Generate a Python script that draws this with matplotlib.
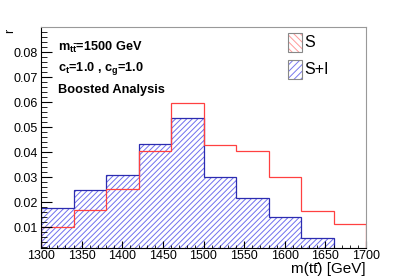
import matplotlib
matplotlib.use('Agg')
import matplotlib.pyplot as plt
from matplotlib.patches import Rectangle
from matplotlib.ticker import MultipleLocator

# bin edges of m(tt) in GeV
edges = [1300, 1340, 1380, 1420, 1460, 1500, 1540, 1580, 1620, 1660, 1700]
# signal only
s_vals = [0.0102, 0.0168, 0.0254, 0.0406, 0.0598, 0.0429, 0.0404, 0.0301, 0.0165, 0.0112]
# signal + interference
si_vals = [0.0178, 0.0248, 0.0310, 0.0432, 0.0536, 0.0302, 0.0217, 0.0141, 0.0058, 0.0]
y_ticks = [0.01, 0.02, 0.03, 0.04, 0.05, 0.06, 0.07, 0.08]
legend_labels = ['S', 'S+I']

plt.rcParams['font.family'] = ['Liberation Sans', 'DejaVu Sans']
plt.rcParams['mathtext.fontset'] = 'custom'
plt.rcParams['mathtext.rm'] = 'Liberation Sans'
plt.rcParams['mathtext.it'] = 'Liberation Sans'
plt.rcParams['mathtext.bf'] = 'Liberation Sans:bold'
plt.rcParams['hatch.linewidth'] = 0.7

W, H = 407, 276
fig = plt.figure(figsize=(W / 100, H / 100), dpi=100)
ax = fig.add_axes([41 / W, 1 - 247.7 / H, 325 / W, 220.7 / H])

hatch_blue = '#7070ee'
ax.stairs(si_vals, edges, fill=True, facecolor='none', edgecolor=hatch_blue,
          hatch='//////', linewidth=0)
ax.stairs(si_vals, edges, color='#2c2cb0', linewidth=0.9)
ax.stairs(s_vals, edges, color='#ff4040', linewidth=0.9)

ax.set_xlim(1300, 1700)
ax.set_ylim(0.0018, 0.0901)
ax.xaxis.set_major_locator(MultipleLocator(50))
ax.xaxis.set_minor_locator(MultipleLocator(10))
ax.yaxis.set_minor_locator(MultipleLocator(0.002))
ax.set_yticks(y_ticks)
ax.set_yticklabels(['%.2f' % v for v in y_ticks])
ax.tick_params(which='both', direction='in', labelsize=9, top=False, right=False)
ax.tick_params(axis='x', which='major', length=5, pad=2)
ax.tick_params(axis='x', which='minor', length=2.5)
ax.tick_params(axis='y', which='major', length=8, pad=2)
ax.tick_params(axis='y', which='minor', length=4)
for side in ['top', 'right']:
    ax.spines[side].set_color('#999999')

# axis titles, ROOT style
fig.text(366 / W, 1 - 272.5 / H, 'm(tt\u0304) [GeV]',
         fontsize=11, ha='right', va='baseline')
fig.text(10 / W, 1 - 31 / H, 'r', fontsize=9, rotation=90, ha='center', va='center')

ax.text(17 / 325, 0.909, r'm$_{\mathbf{t\bar{t}}}$=1500 GeV', transform=ax.transAxes,
        fontsize=9.2, fontweight='bold', va='center')
ax.text(17 / 325, 0.814, r'c$_{\mathbf{t}}$=1.0 , c$_{\mathbf{g}}$=1.0', transform=ax.transAxes,
        fontsize=9.2, fontweight='bold', va='center')
ax.text(17 / 325, 0.715, 'Boosted Analysis', transform=ax.transAxes,
        fontsize=9.2, fontweight='bold', va='center')

# legend boxes
for label, hcol, hatch, ytop in [(legend_labels[0], '#ff9a9a', '\\\\\\\\\\', 33),
                                 (legend_labels[1], '#7777ee', '/////', 60)]:
    fig.patches.append(Rectangle((288 / W, 1 - (ytop + 19) / H), 14 / W, 19 / H,
                                 transform=fig.transFigure, facecolor='none',
                                 edgecolor=hcol, hatch=hatch, linewidth=0))
    fig.patches.append(Rectangle((288 / W, 1 - (ytop + 19) / H), 14 / W, 19 / H,
                                 transform=fig.transFigure, facecolor='none',
                                 edgecolor='#888888', linewidth=0.8))
    fig.text(304 / W, 1 - (ytop + 9.5) / H, label, fontsize=11.5, va='center')

fig.savefig('out.png', dpi=100)
